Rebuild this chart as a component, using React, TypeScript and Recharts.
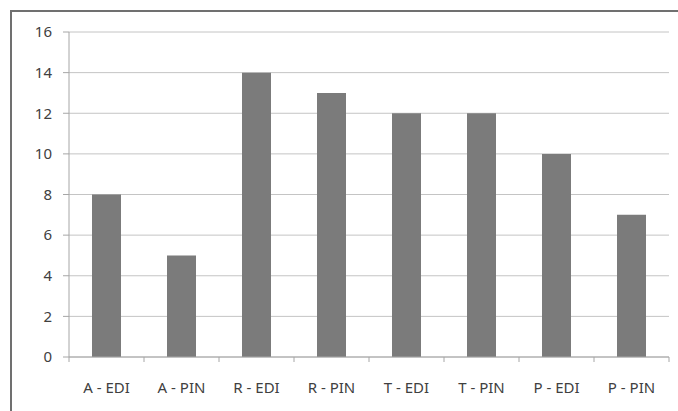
import React from "react"
import { BarChart, Bar, XAxis, YAxis, CartesianGrid } from "recharts"

const categories = ["A - EDI", "A - PIN", "R - EDI", "R - PIN", "T - EDI", "T - PIN", "P - EDI", "P - PIN"]
const counts = [8, 5, 14, 13, 12, 12, 10, 7]
const yTicks = [0, 2, 4, 6, 8, 10, 12, 14, 16]

const data = categories.map((name, i) => ({ name, value: counts[i] }))

const W = 678
const H = 411
const M = { top: 32, right: 9, bottom: 24, left: 0 }
const Y_AXIS_W = 69
const X_AXIS_H = 30
const PLOT_W = W - M.left - M.right - Y_AXIS_W
const PLOT_BOTTOM = H - M.bottom - X_AXIS_H
const STEP = PLOT_W / categories.length

const font = "'Noto Sans', sans-serif"

// category label centred in its band, with Excel-style tick marks on the band edges
function CategoryTick(props: any) {
  const { x, payload, index } = props
  const left = x - STEP / 2
  const right = x + STEP / 2
  return (
    <g>
      <line x1={left} y1={PLOT_BOTTOM} x2={left} y2={PLOT_BOTTOM + 5} stroke="#a6a6a6" />
      {index === categories.length - 1 && (
        <line x1={right} y1={PLOT_BOTTOM} x2={right} y2={PLOT_BOTTOM + 5} stroke="#a6a6a6" />
      )}
      <text x={x} y={PLOT_BOTTOM + 36} textAnchor="middle" fill="#404040" fontSize={15} fontFamily={font}>
        {payload.value}
      </text>
    </g>
  )
}

export default function App() {
  return (
    <div style={{ position: "absolute", left: 0, top: 0, width: W, height: H, background: "#fff" }}>
      <div
        style={{
          position: "absolute",
          left: 10,
          top: 10,
          right: 0,
          bottom: 0,
          borderTop: "2px solid #707070",
          borderLeft: "2px solid #707070",
        }}
      />
      <BarChart width={W} height={H} data={data} margin={M} style={{ position: "absolute", left: 0, top: 0 }}>
        <CartesianGrid vertical={false} stroke="#c4c4c4" />
        <XAxis
          dataKey="name"
          height={X_AXIS_H}
          stroke="#a6a6a6"
          tickLine={false}
          tick={<CategoryTick />}
          interval={0}
        />
        <YAxis
          width={Y_AXIS_W}
          domain={[0, 16]}
          ticks={yTicks}
          stroke="#a6a6a6"
          tickSize={6}
          tickMargin={11}
          tick={{ fill: "#404040", fontSize: 15, fontFamily: font }}
        />
        <Bar dataKey="value" fill="#7b7b7b" barSize={29} isAnimationActive={false} />
      </BarChart>
    </div>
  )
}
